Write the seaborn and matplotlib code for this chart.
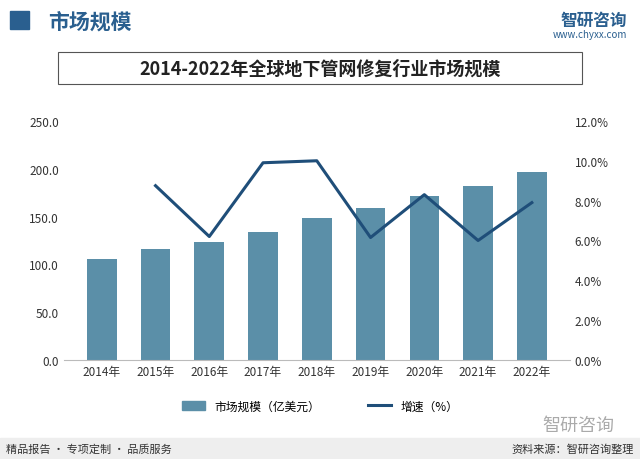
import matplotlib
matplotlib.use("Agg")
import matplotlib.pyplot as plt
import seaborn as sns
import pandas as pd

plt.rcParams["font.family"] = ["Noto Sans CJK SC"]

years = ["2014年", "2015年", "2016年", "2017年", "2018年", "2019年", "2020年", "2021年", "2022年"]
market_size = [106, 115.6, 123, 134, 149, 159, 172, 182, 197]
growth = [None, 8.75, 6.2, 9.9, 10.0, 6.15, 8.3, 6.0, 7.9]

df = pd.DataFrame({"year": years, "size": market_size, "growth": growth})

fig = plt.figure(figsize=(6.4, 4.6), dpi=100)
fig.patch.set_facecolor("white")

# header
fig.text(0.075, 0.975, "市场规模", fontsize=15, fontweight="bold", color="#2a5f8f", va="top")
fig.patches.append(plt.Rectangle((0.015, 0.935), 0.03, 0.04, transform=fig.transFigure,
                                 color="#2a5f8f", figure=fig))
fig.text(0.98, 0.975, "智研咨询", fontsize=12, color="#2a5f8f", ha="right", va="top", fontweight="bold")
fig.text(0.98, 0.935, "www.chyxx.com", fontsize=7, color="#2a5f8f", ha="right", va="top")

# title box
fig.patches.append(plt.Rectangle((0.09, 0.815), 0.82, 0.07, transform=fig.transFigure,
                                 fill=False, edgecolor="#555555", linewidth=0.8, figure=fig))
fig.text(0.5, 0.85, "2014-2022年全球地下管网修复行业市场规模", fontsize=13, fontweight="bold",
         ha="center", va="center", color="#222222")

ax = fig.add_axes([0.1, 0.215, 0.79, 0.52])
sns.barplot(data=df, x="year", y="size", color="#5b8fa8", width=0.55, saturation=1, ax=ax)
ax.set_ylim(0, 250)
ax.set_yticks([0, 50, 100, 150, 200, 250])
ax.set_yticklabels([f"{v:.1f}" for v in [0, 50, 100, 150, 200, 250]])
ax.set_xlabel("")
ax.set_ylabel("")
for s in ["top", "right", "left"]:
    ax.spines[s].set_visible(False)
ax.spines["bottom"].set_color("#bbbbbb")
ax.tick_params(axis="both", length=0, labelsize=8.5, colors="#333333")

ax2 = ax.twinx()
sns.lineplot(x=list(range(1, 9)), y=growth[1:], color="#1f4e79", linewidth=2.2, ax=ax2)
ax2.set_ylim(0, 12)
ax2.set_yticks(range(0, 13, 2))
ax2.set_yticklabels([f"{v:.1f}%" for v in range(0, 13, 2)])
for s in ["top", "right", "left", "bottom"]:
    ax2.spines[s].set_visible(False)
ax2.tick_params(axis="y", length=0, labelsize=8.5, colors="#333333")

handles = [plt.Rectangle((0, 0), 1, 1, color="#5b8fa8"),
           plt.Line2D([0], [0], color="#1f4e79", linewidth=2.2)]
fig.legend(handles, ["市场规模（亿美元）", "增速（%）"], loc="center", bbox_to_anchor=(0.5, 0.115),
           ncol=2, frameon=False, fontsize=8.5, columnspacing=4)

# footer
fig.patches.append(plt.Rectangle((0, 0), 1, 0.045, transform=fig.transFigure,
                                 color="#eeeeee", figure=fig))
fig.text(0.01, 0.022, "精品报告 · 专项定制 · 品质服务", fontsize=8, va="center", color="#333333")
fig.text(0.99, 0.022, "资料来源：智研咨询整理", fontsize=8, va="center", ha="right", color="#333333")
fig.text(0.96, 0.075, "智研咨询", fontsize=13, color="#aaaaaa", ha="right", va="center")

fig.savefig("out.png", dpi=100)
